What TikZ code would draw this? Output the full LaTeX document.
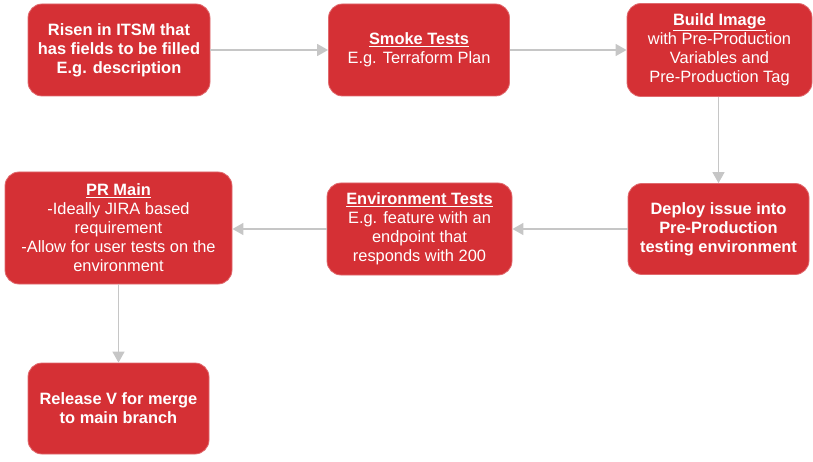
\documentclass[tikz,border=0pt]{standalone}
\usepackage{fontspec}
\setmainfont{Liberation Sans}
\usetikzlibrary{arrows.meta}
\definecolor{boxred}{HTML}{D53035}
\definecolor{boxedge}{HTML}{E06A6E}
\definecolor{linkgray}{HTML}{C6C6C6}
\newcommand{\hdr}[1]{\underline{\textbf{#1}}}
\begin{document}
\begin{tikzpicture}[x=1pt,y=-1pt,
  stepbox/.style={draw=boxedge, line width=0.8pt, fill=boxred, rounded corners=14pt,
    text=white, align=center, inner sep=0pt,
    font=\fontsize{16.4}{19}\selectfont,
    execute at begin node={\rule{0pt}{18pt}}},
  link/.style={draw=linkgray, line width=1.5pt,
    -{Triangle[length=11pt,width=12pt]}}]
\useasboundingbox (0,0) rectangle (813,462);

\node[stepbox, minimum width=182pt, minimum height=92pt] (risen) at (119,50)
  {\textbf{Risen in ITSM that}\\\textbf{has fields to be filled}\\\textbf{E.g. description}};
\node[stepbox, minimum width=181pt, minimum height=92pt] (smoke) at (419,50)
  {\hdr{Smoke Tests}\\E.g. Terraform Plan};
\node[stepbox, minimum width=185pt, minimum height=93pt] (build) at (719.5,50)
  {\hdr{Build Image}\\with Pre-Production\\Variables and\\Pre-Production Tag};
\node[stepbox, minimum width=181pt, minimum height=91pt] (deploy) at (718.5,229)
  {\textbf{Deploy issue into}\\\textbf{Pre-Production}\\\textbf{testing environment}};
\node[stepbox, minimum width=185pt, minimum height=92pt] (envtest) at (419.5,229)
  {\hdr{Environment Tests}\\E.g. feature with an\\endpoint that\\responds with 200};
\node[stepbox, minimum width=227pt, minimum height=112pt] (prmain) at (118.5,228)
  {\hdr{PR Main}\\-Ideally JIRA based\\requirement\\-Allow for user tests on the\\environment};
\node[stepbox, minimum width=181pt, minimum height=91pt] (release) at (118.5,408.5)
  {\textbf{Release V for merge}\\\textbf{to main branch}};

\draw[link] (risen) -- (smoke);
\draw[link] (smoke) -- (build);
\draw[link] (build.south -| deploy.north) -- (deploy.north);
\draw[link] (deploy) -- (envtest);
\draw[link] (envtest.west) -- (envtest.west -| prmain.east);
\draw[link] (prmain) -- (release);
\end{tikzpicture}
\end{document}
